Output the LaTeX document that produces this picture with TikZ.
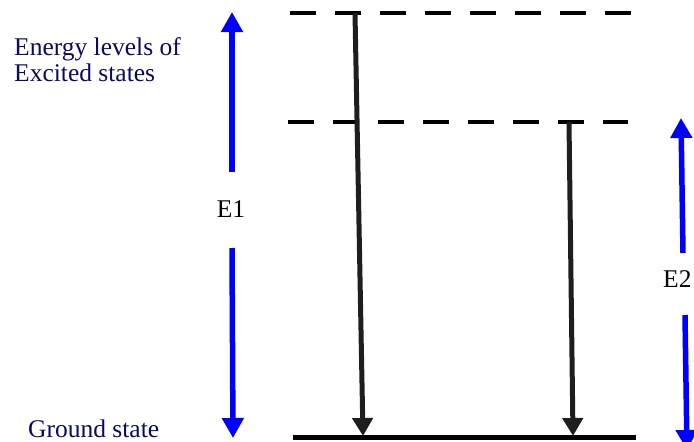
\documentclass[tikz,border=0pt]{standalone}
\usepackage{fontspec}
\setmainfont{Liberation Serif}
\usetikzlibrary{arrows.meta}
\definecolor{navytext}{RGB}{10,10,100}
\definecolor{arrowblue}{RGB}{0,0,255}
\tikzset{
  level/.style={line width=4.5pt, dash pattern=on 26pt off 19pt},
  ground/.style={line width=5pt},
  transition/.style={line width=5pt, draw={rgb,255:red,30;green,30;blue,30}, -{Triangle[width=20pt,length=18pt]}},
  energy/.style={line width=5.5pt, draw=arrowblue, -{Triangle[width=21pt,length=20pt]}},
  lbl/.style={font=\fontsize{25.5}{26}\selectfont, text=navytext, align=left, inner sep=0pt},
  elbl/.style={font=\fontsize{25.5}{26}\selectfont, inner sep=0pt}
}
\begin{document}
\begin{tikzpicture}[x=1pt,y=-1pt]
\useasboundingbox (0,0) rectangle (694,442);
\clip (0,0) rectangle (694,442);
% levels
\coordinate (l1a) at (290,13);
\coordinate (l1b) at (632,13);
\coordinate (l2a) at (288,122);
\coordinate (l2b) at (628,122);
\coordinate (g1) at (293,437);
\coordinate (g2) at (636,437);
\draw[level] (l1a) -- (l1b);
\draw[level] (l2a) -- (l2b);
\draw[ground] (g1) -- (g2);
% transitions
\coordinate (t1s) at (355,13);
\coordinate (t1e) at (363,436);
\coordinate (t2s) at (569,122);
\coordinate (t2e) at (573,436);
\draw[transition] (t1s) -- (t1e);
\draw[transition] (t2s) -- (t2e);
% labels
\node[lbl, anchor=north west] (exc) at (14,37.2) {Energy levels of\\Excited states};
\node[lbl, anchor=base west] (gnd) at (28,437.5) {Ground state};
% E1
\node[elbl, anchor=base] (e1) at (231,217) {E1};
\coordinate (e1up) at (232,172);
\coordinate (e1top) at (232,12);
\coordinate (e1dn) at (232,248);
\coordinate (e1bot) at (233,438);
\draw[energy] (e1up) -- (e1top);
\draw[energy] (e1dn) -- (e1bot);
% E2
\node[elbl, anchor=base west] (e2) at (663,287) {E2};
\coordinate (e2up) at (683,253);
\coordinate (e2top) at (681,118);
\coordinate (e2dn) at (685,315);
\coordinate (e2bot) at (687,450);
\draw[energy] (e2up) -- (e2top);
\draw[energy] (e2dn) -- (e2bot);
\end{tikzpicture}
\end{document}
